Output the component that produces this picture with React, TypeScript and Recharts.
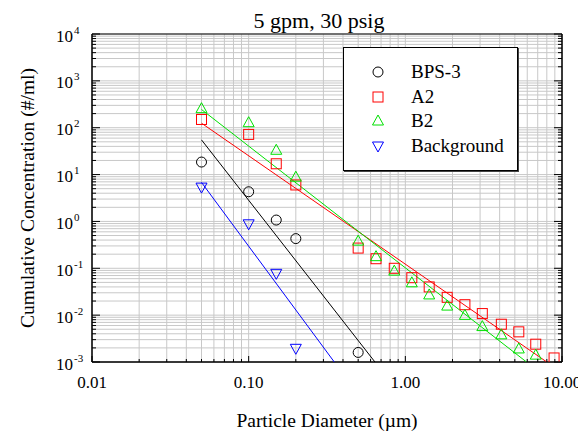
import React from "react";
import { ScatterChart, Scatter, XAxis, YAxis, CartesianGrid, ReferenceArea } from "recharts";

const bps3 = [
  { x: 0.05, y: 18.5 }, { x: 0.1, y: 4.3 }, { x: 0.15, y: 1.07 }, { x: 0.2, y: 0.43 }, { x: 0.5, y: 0.0016 },
];
const a2 = [
  { x: 0.05, y: 150 }, { x: 0.1, y: 72 }, { x: 0.15, y: 17 }, { x: 0.2, y: 6 }, { x: 0.5, y: 0.27 },
  { x: 0.65, y: 0.16 }, { x: 0.85, y: 0.1 }, { x: 1.1, y: 0.063 }, { x: 1.42, y: 0.04 }, { x: 1.85, y: 0.024 },
  { x: 2.4, y: 0.0167 }, { x: 3.1, y: 0.0108 }, { x: 4.1, y: 0.0064 }, { x: 5.3, y: 0.0044 }, { x: 6.8, y: 0.0024 },
  { x: 8.9, y: 0.00122 },
];
const b2 = [
  { x: 0.05, y: 255 }, { x: 0.1, y: 128 }, { x: 0.15, y: 33 }, { x: 0.2, y: 8.8 }, { x: 0.5, y: 0.38 },
  { x: 0.65, y: 0.177 }, { x: 0.85, y: 0.087 }, { x: 1.1, y: 0.049 }, { x: 1.42, y: 0.027 }, { x: 1.85, y: 0.0156 },
  { x: 2.4, y: 0.0099 }, { x: 3.1, y: 0.0057 }, { x: 4.1, y: 0.0038 }, { x: 5.3, y: 0.0019 }, { x: 6.8, y: 0.0014 },
];
const background = [
  { x: 0.05, y: 5.4 }, { x: 0.1, y: 0.89 }, { x: 0.15, y: 0.078 }, { x: 0.2, y: 0.00196 },
];

const bps3Fit = [{ x: 0.05, y: 55 }, { x: 0.64, y: 0.001 }];
const a2Fit = [{ x: 0.05, y: 125 }, { x: 8.0, y: 0.001 }];
const b2Fit = [{ x: 0.05, y: 245 }, { x: 5.94, y: 0.001 }];
const backgroundFit = [{ x: 0.05, y: 6.8 }, { x: 0.352, y: 0.001 }];

const xDecades = [0.01, 0.1, 1, 10];
const xDecadeLabels = ["0.01", "0.10", "1.00", "10.00"];
const yDecades = [0.001, 0.01, 0.1, 1, 10, 100, 1000, 10000];
const yExponents = ["-3", "-2", "-1", "0", "1", "2", "3", "4"];
const minorMultipliers = [1, 2, 3, 4, 5, 6, 7, 8, 9];

const buildTicks = (decades: number[]) => {
  const out: number[] = [];
  decades.forEach((d, i) => {
    if (i === decades.length - 1) {
      out.push(d);
    } else {
      minorMultipliers.forEach((m) => out.push(parseFloat((d * m).toPrecision(6))));
    }
  });
  return out;
};
const xTicks = buildTicks(xDecades);
const yTicks = buildTicks(yDecades);

const isDecade = (v: number) => Math.abs(Math.log10(v) - Math.round(Math.log10(v))) < 1e-6;
const decadeIndex = (arr: number[], v: number) => arr.findIndex((d) => Math.abs(Math.log10(d) - Math.log10(v)) < 1e-6);

const FONT = "'Liberation Serif', 'Times New Roman', serif";

const BottomTick = (props: any) => {
  const { x, y, payload } = props;
  const v = payload.value;
  const dec = isDecade(v);
  const idx = decadeIndex(xDecades, v);
  return (
    <g>
      <line x1={x} x2={x} y1={y} y2={y - (dec ? 6 : 3)} stroke="#000" />
      {idx >= 0 && (
        <text x={x} y={y + 25.5} textAnchor="middle" fontFamily={FONT} fontSize={17} fill="#000">
          {xDecadeLabels[idx]}
        </text>
      )}
    </g>
  );
};

const LeftTick = (props: any) => {
  const { x, y, payload } = props;
  const v = payload.value;
  const dec = isDecade(v);
  const idx = decadeIndex(yDecades, v);
  return (
    <g>
      <line x1={x} x2={x + (dec ? 8 : 4)} y1={y} y2={y} stroke="#000" />
      {idx >= 0 && (
        <g>
          <text x={x - 19} y={y + 7.5} textAnchor="end" fontFamily={FONT} fontSize={17} fill="#000">10</text>
          <text x={x - 18} y={y - 0.5} textAnchor="start" fontFamily={FONT} fontSize={11} fill="#000">{yExponents[idx]}</text>
        </g>
      )}
    </g>
  );
};

const RightTick = (props: any) => {
  const { x, y, payload } = props;
  const dec = isDecade(payload.value);
  return <line x1={x} x2={x - (dec ? 8 : 4)} y1={y} y2={y} stroke="#000" />;
};

const TopTick = (props: any) => {
  const { x, y, payload } = props;
  const dec = isDecade(payload.value);
  return <line x1={x} x2={x} y1={y} y2={y + (dec ? 6 : 3)} stroke="#000" />;
};

const Circle = (p: any) => <circle cx={p.cx} cy={p.cy} r={5} fill="none" stroke="#000" strokeWidth={1} />;
const Square = (p: any) => <rect x={p.cx - 5} y={p.cy - 5} width={10} height={10} fill="none" stroke="#ff0000" strokeWidth={1} />;
const TriUp = (p: any) => (
  <polygon points={`${p.cx},${p.cy - 6} ${p.cx - 5.5},${p.cy + 4} ${p.cx + 5.5},${p.cy + 4}`} fill="none" stroke="#00e000" strokeWidth={1} />
);
const TriDown = (p: any) => (
  <polygon points={`${p.cx},${p.cy + 6} ${p.cx - 5.5},${p.cy - 4} ${p.cx + 5.5},${p.cy - 4}`} fill="none" stroke="#0000ff" strokeWidth={1} />
);
const NoShape = () => <g />;

const legendItems = [
  { name: "BPS-3", Shape: Circle },
  { name: "A2", Shape: Square },
  { name: "B2", Shape: TriUp },
  { name: "Background", Shape: TriDown },
];

export default function App() {
  return (
    <div style={{ position: "relative", width: 578, height: 425, fontFamily: FONT, color: "#000" }}>
      <ScatterChart width={578} height={425} margin={{ top: 26, right: 14, bottom: 41, left: 24 }}>
        <CartesianGrid yAxisId="l" stroke="#c8c8c8" strokeWidth={1} />
        <XAxis
          dataKey="x"
          type="number"
          scale="log"
          domain={[0.01, 10]}
          allowDataOverflow
          ticks={xTicks}
          interval={0}
          tickSize={0}
          tickMargin={0}
          tickLine={false}
          axisLine={{ stroke: "#000" }}
          tick={<BottomTick />}
          height={30}
        />
        <XAxis
          xAxisId="top"
          orientation="top"
          dataKey="x"
          type="number"
          scale="log"
          domain={[0.01, 10]}
          allowDataOverflow
          ticks={xTicks}
          interval={0}
          tickSize={0}
          tickMargin={0}
          tickLine={false}
          axisLine={{ stroke: "#000" }}
          tick={<TopTick />}
          height={0}
        />
        <YAxis
          yAxisId="l"
          dataKey="y"
          type="number"
          scale="log"
          domain={[0.001, 10000]}
          allowDataOverflow
          ticks={yTicks}
          interval={0}
          tickSize={0}
          tickMargin={0}
          tickLine={false}
          axisLine={{ stroke: "#000" }}
          tick={<LeftTick />}
          width={60}
        />
        <YAxis
          yAxisId="r"
          orientation="right"
          dataKey="y"
          type="number"
          scale="log"
          domain={[0.001, 10000]}
          allowDataOverflow
          ticks={yTicks}
          interval={0}
          tickSize={0}
          tickMargin={0}
          tickLine={false}
          axisLine={{ stroke: "#000" }}
          tick={<RightTick />}
          width={10}
        />
        <ReferenceArea yAxisId="l" x1={0.01} x2={10} y1={0.001} y2={10000} fill="none" stroke="#000" strokeWidth={1} ifOverflow="extendDomain" />
        <Scatter yAxisId="l" data={bps3Fit} line={{ stroke: "#000", strokeWidth: 1 }} lineType="joint" shape={NoShape} isAnimationActive={false} />
        <Scatter yAxisId="l" data={a2Fit} line={{ stroke: "#ff0000", strokeWidth: 1 }} lineType="joint" shape={NoShape} isAnimationActive={false} />
        <Scatter yAxisId="l" data={b2Fit} line={{ stroke: "#00e000", strokeWidth: 1 }} lineType="joint" shape={NoShape} isAnimationActive={false} />
        <Scatter yAxisId="l" data={backgroundFit} line={{ stroke: "#0000ff", strokeWidth: 1 }} lineType="joint" shape={NoShape} isAnimationActive={false} />
        <Scatter yAxisId="l" data={bps3} shape={Circle} isAnimationActive={false} />
        <Scatter yAxisId="l" data={a2} shape={Square} isAnimationActive={false} />
        <Scatter yAxisId="l" data={b2} shape={TriUp} isAnimationActive={false} />
        <Scatter yAxisId="l" data={background} shape={TriDown} isAnimationActive={false} />
      </ScatterChart>

      <div style={{ position: "absolute", left: 151, top: 1, width: 320, textAlign: "center", fontSize: 22, lineHeight: "24px" }}>
        5 gpm, 30 psig
      </div>
      <div style={{ position: "absolute", left: 169, top: 401, width: 300, textAlign: "center", fontSize: 19.5, lineHeight: "24px" }}>
        Particle Diameter (µm)
      </div>
      <div
        style={{
          position: "absolute",
          left: 20 - 150,
          top: 190 - 12,
          width: 300,
          textAlign: "center",
          fontSize: 19.5,
          lineHeight: "24px",
          transform: "rotate(-90deg)",
          whiteSpace: "nowrap",
        }}
      >
        Cumulative Concentration (#/ml)
      </div>

      <div
        style={{
          position: "absolute",
          left: 335,
          top: 39,
          width: 173,
          height: 122,
          border: "1px solid #000",
          background: "#fff",
          boxShadow: "1px 1px 0 #444",
        }}
      >
        {legendItems.map((it, i) => (
          <div key={it.name} style={{ position: "absolute", left: 0, top: 12 + i * 24.7, height: 24, width: 173 }}>
            <svg width={20} height={24} style={{ position: "absolute", left: 24, top: 0 }}>
              <it.Shape cx={10} cy={12} />
            </svg>
            <div style={{ position: "absolute", left: 67, top: 0, fontSize: 19, lineHeight: "24px", whiteSpace: "nowrap" }}>
              {it.name}
            </div>
          </div>
        ))}
      </div>
    </div>
  );
}
